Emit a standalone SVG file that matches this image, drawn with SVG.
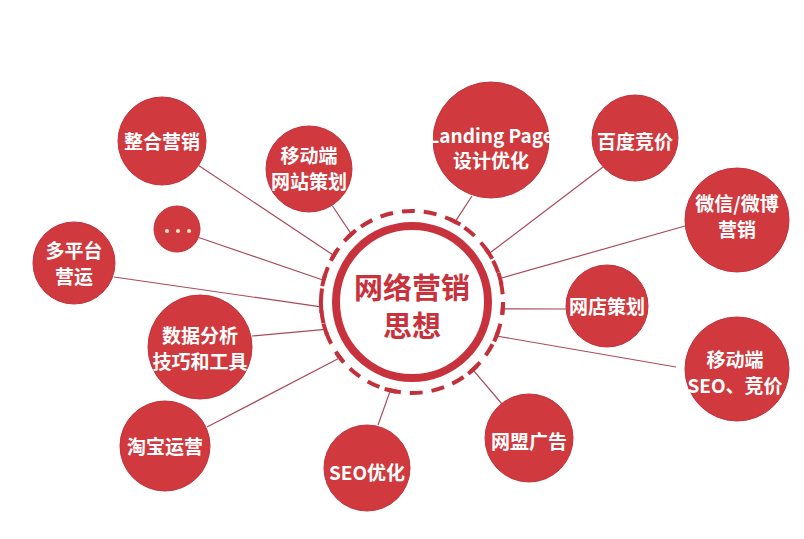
<svg xmlns="http://www.w3.org/2000/svg" width="804" height="539" viewBox="0 0 804 539">
<style>
.node circle{fill:#d0393d;stroke:#c4303a;stroke-width:1}
.node text{fill:#ffffff;font-family:"Noto Sans CJK SC","Noto Sans",sans-serif;font-weight:700;font-size:19px;text-anchor:middle}
.conn line{stroke:#a84a5a;stroke-width:1.2}
.conn .tick{stroke:#c4303a;stroke-width:4}
.ctext{fill:#c8323c;font-family:"Noto Sans CJK SC","Noto Sans",sans-serif;font-weight:700;font-size:29px;text-anchor:middle}
</style>
<rect width="804" height="539" fill="#ffffff"/>
<g id="connectors" class="conn">
<line x1="198.6" y1="165.4" x2="333.8" y2="255.5"/>
<line x1="332.5" y1="206" x2="351.3" y2="234.2"/>
<line x1="198.7" y1="237.5" x2="323.6" y2="280.3"/>
<line x1="114" y1="277" x2="321.1" y2="306.9"/>
<line x1="252" y1="336" x2="325.2" y2="329.3"/>
<line x1="207" y1="427" x2="340" y2="357.7"/>
<line x1="472" y1="196" x2="455.1" y2="221.8"/>
<line x1="603" y1="167" x2="489.1" y2="253.6"/>
<line x1="685" y1="226" x2="500" y2="278.5"/>
<line x1="566" y1="309" x2="502.7" y2="308.8"/>
<line x1="676" y1="367" x2="496.4" y2="336"/>
<line x1="502" y1="404" x2="472.8" y2="369.7"/>
<line x1="378" y1="425" x2="390.4" y2="390.4"/>
<line class="tick" x1="330.7" y1="260.7" x2="336.9" y2="250.3"/>
<line class="tick" x1="346.8" y1="238.2" x2="355.8" y2="230.2"/>
<line class="tick" x1="322.2" y1="286.1" x2="325" y2="274.5"/>
<line class="tick" x1="321.4" y1="312.9" x2="320.8" y2="300.9"/>
<line class="tick" x1="327" y1="335" x2="323.4" y2="323.6"/>
<line class="tick" x1="343.7" y1="362.5" x2="336.3" y2="353"/>
<line class="tick" x1="449.8" y1="219" x2="460.4" y2="224.6"/>
<line class="tick" x1="485.9" y1="248.5" x2="492.3" y2="258.7"/>
<line class="tick" x1="498.5" y1="272.7" x2="501.6" y2="284.3"/>
<line class="tick" x1="503.2" y1="302.8" x2="502.3" y2="314.8"/>
<line class="tick" x1="498.6" y1="330.4" x2="494.2" y2="341.6"/>
<line class="tick" x1="477.3" y1="365.7" x2="468.3" y2="373.7"/>
<line class="tick" x1="396.2" y1="391.8" x2="384.6" y2="389"/>
</g>
<g id="center">
<circle cx="412" cy="302" r="91" fill="none" stroke="#c4303a" stroke-width="4" stroke-dasharray="13 9"/>
<circle cx="412" cy="302" r="76" fill="#ffffff" stroke="#c8323c" stroke-width="8"/>
<text class="ctext" x="412" y="299">网络营销</text>
<text class="ctext" x="412" y="337">思想</text>
</g>
<g id="n-zhenghe" class="node"><circle cx="162" cy="141" r="44"/><text x="162" y="149">整合营销</text></g>
<g id="n-mobile-site" class="node"><circle cx="309" cy="169" r="43"/><text x="309" y="163">移动端</text><text x="309" y="189">网站策划</text></g>
<g id="n-more" class="node"><circle cx="177" cy="229" r="23"/><circle cx="167" cy="231" r="2" style="fill:#f6e7c8;stroke:none"/><circle cx="178" cy="231" r="2" style="fill:#f6e7c8;stroke:none"/><circle cx="189" cy="231" r="2" style="fill:#f6e7c8;stroke:none"/></g>
<g id="n-multi" class="node"><circle cx="74" cy="263" r="41"/><text x="74" y="258">多平台</text><text x="74" y="284">营运</text></g>
<g id="n-data" class="node"><circle cx="200" cy="347" r="52"/><text x="200" y="343">数据分析</text><text x="200" y="369">技巧和工具</text></g>
<g id="n-taobao" class="node"><circle cx="165" cy="446" r="45"/><text x="165" y="454">淘宝运营</text></g>
<g id="n-landing" class="node"><circle cx="491" cy="140" r="58"/><text x="491" y="143">Landing Page</text><text x="491" y="168">设计优化</text></g>
<g id="n-baidu" class="node"><circle cx="635" cy="138" r="43"/><text x="635" y="149">百度竞价</text></g>
<g id="n-weixin" class="node"><circle cx="737" cy="220" r="52"/><text x="737" y="211">微信/微博</text><text x="737" y="237">营销</text></g>
<g id="n-shop" class="node"><circle cx="607" cy="306" r="41"/><text x="607" y="314">网店策划</text></g>
<g id="n-mobile-seo" class="node"><circle cx="737" cy="369" r="52"/><text x="735" y="367">移动端</text><text x="735" y="393">SEO、竞价</text></g>
<g id="n-league" class="node"><circle cx="529" cy="438" r="44"/><text x="529" y="449">网盟广告</text></g>
<g id="n-seo" class="node"><circle cx="367" cy="468" r="43"/><text x="367" y="480">SEO优化</text></g>
</svg>
